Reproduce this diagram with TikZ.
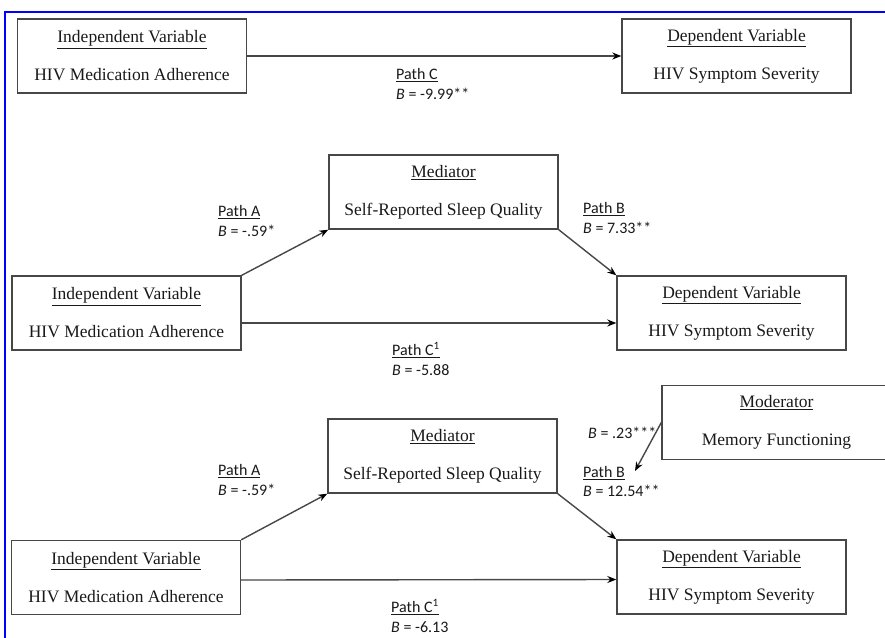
\documentclass[tikz,border=0pt]{standalone}
\usepackage{fontspec}
\setmainfont{Liberation Serif}
\newfontfamily\pathfont{Carlito}
\usetikzlibrary{arrows.meta}
\newcommand{\boxtext}[2]{\underline{#1}\\[17pt]#2}
\begin{document}
\begin{tikzpicture}[x=1pt,y=-1pt,>={Stealth[length=9pt,width=7pt,black]},
  varbox/.style={draw=black!72,line width=1.4pt,minimum width=229pt,minimum height=74pt,
    align=center,inner sep=0pt,text=black!90,font=\fontsize{17.5}{21}\selectfont},
  pathlbl/.style={anchor=west,align=left,inner sep=0pt,text=black!90,font=\pathfont\fontsize{16}{19.5}\selectfont},
  link/.style={draw=black!72,line width=1.4pt,->}]
  \clip (0,0) rectangle (885,637);
  \draw[blue,line width=2.5pt] (5,645) -- (5,12) -- (890,12);
  % total effect
  \node[varbox] (ivA) at (132,56) {\boxtext{Independent Variable}{HIV Medication Adherence}};
  \node[varbox] (dvA) at (736.5,56) {\boxtext{Dependent Variable}{HIV Symptom Severity}};
  \draw[link] (ivA) -- (dvA);
  \node[pathlbl] (pcA) at (396,84) {\underline{Path C}\\\textit{B} = -9.99**};
  % mediation
  \node[varbox] (ivB) at (126.5,313) {\boxtext{Independent Variable}{HIV Medication Adherence}};
  \node[varbox] (medB) at (443.5,192) {\boxtext{Mediator}{Self-Reported Sleep Quality}};
  \node[varbox] (dvB) at (731.5,313) {\boxtext{Dependent Variable}{HIV Symptom Severity}};
  \draw[link] (ivB.north east) -- (medB.south west);
  \draw[link] (medB.south east) -- (dvB.north west);
  \draw[link] ([yshift=-10pt]ivB.east) -- ([yshift=-10pt]dvB.west);
  \node[pathlbl] (paB) at (218,221) {\underline{Path A}\\\textit{B} = -.59*};
  \node[pathlbl] (pbB) at (583,218) {\underline{Path B}\\\textit{B} = 7.33**};
  \node[pathlbl] (pcB) at (392,359) {\underline{Path C\textsuperscript{1}}\\\textit{B} = -5.88};
  % moderated mediation
  \node[varbox] (ivC) at (126,577.5) {\boxtext{Independent Variable}{HIV Medication Adherence}};
  \node[varbox] (medC) at (442.5,456) {\boxtext{Mediator}{Self-Reported Sleep Quality}};
  \node[varbox] (dvC) at (731.5,577) {\boxtext{Dependent Variable}{HIV Symptom Severity}};
  \node[varbox] (modC) at (776.5,422.5) {\boxtext{Moderator}{Memory Functioning}};
  \coordinate (modtip) at (635,471);
  \draw[link] (ivC.north east) -- (medC.south west);
  \draw[link] (medC.south east) -- (dvC.north west);
  \draw[link] ([yshift=-2.5pt]ivC.east) -- ([yshift=-2.5pt]dvC.west);
  \draw[link] (modC.west) -- (modtip);
  \node[pathlbl] (paC) at (218,480) {\underline{Path A}\\\textit{B} = -.59*};
  \node[pathlbl] (pbC) at (583,481.5) {\underline{Path B}\\\textit{B} = 12.54**};
  \node[pathlbl] (pcC) at (391,616) {\underline{Path C\textsuperscript{1}}\\\textit{B} = -6.13};
  \node[pathlbl] (mcC) at (588,433) {\textit{B} = .23***};
\end{tikzpicture}
\end{document}
